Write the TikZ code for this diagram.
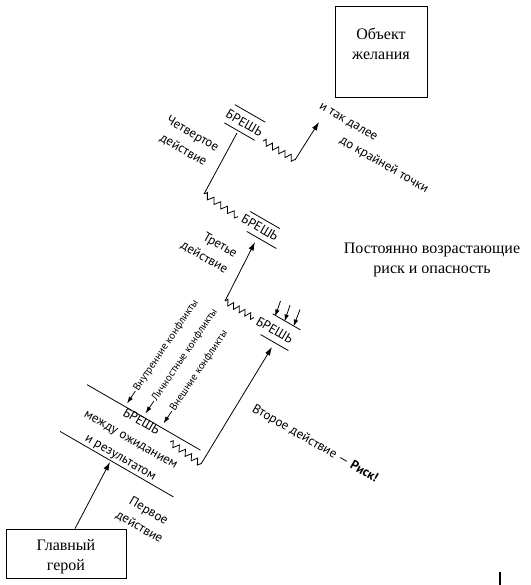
\documentclass[tikz,border=0pt]{standalone}
\usepackage{fontspec}
\setmainfont{Liberation Serif}
\newfontfamily\sansf{PT Sans}
\usetikzlibrary{arrows.meta,decorations.pathmorphing,calc}
\begin{document}
\begin{tikzpicture}[x=1pt,y=-1pt,
  ln/.style={line width=0.8pt},
  arr/.style={ln, -{Latex[length=8.5pt,width=5.5pt]}},
  arrs/.style={ln, -{Latex[length=7pt,width=4.5pt]}},
  zz/.style={ln, decorate, decoration={zigzag, segment length=#1, amplitude=3pt}},
  zz/.default=7.5pt,
  lbl/.style={font=\sansf\fontsize{13}{18.5}\selectfont, inner sep=1pt},
  sml/.style={font=\sansf\fontsize{10.5}{12}\selectfont, inner sep=1pt},
  srf/.style={font=\fontsize{16}{20}\selectfont, align=center, inner sep=0pt},
  box/.style={draw, line width=0.8pt, inner sep=0pt}]
\useasboundingbox (0,0) rectangle (530,585);

% boxes and serif texts
\node[box, minimum width=120pt, minimum height=49pt] (hero) at (66,553.5) {};
\node[srf] (herotxt) at (66,557) {Главный\\герой};
\node[box, minimum width=92pt, minimum height=91pt] (goal) at (381,51.5) {};
\node[srf] (goaltxt) at (381,44) {Объект\\желания};
\node[srf] (risk) at (432,260) {Постоянно возрастающие\\риск и опасность};

% gap 1
\begin{scope}[shift={(130.3,440.8)}, rotate=-30]
  \draw[ln] (-65.5,-27) -- (65.5,-27);
  \draw[ln] (-65.5,27) -- (65.5,27);
  \node[lbl, rotate=-30, align=center, font=\sansf\fontsize{13}{20.5}\selectfont] (g1) at (0,-1) {БРЕШЬ\\между ожиданием\\и результатом};
\end{scope}
% gap 2
\begin{scope}[shift={(280.5,332.2)}, rotate=-30]
  \draw[ln] (-16,-12) -- (16,-12);
  \draw[ln] (-16,12) -- (16,12);
  \node[lbl, rotate=-30] (g2) at (-6,1) {БРЕШЬ};
\end{scope}
% gap 3
\begin{scope}[shift={(263.3,230)}, rotate=-30]
  \draw[ln] (-20.5,-9.5) -- (13.5,-9.5);
  \draw[ln] (-13.5,9.5) -- (20.5,9.5);
  \node[lbl, rotate=-30] (g3) at (-4,-0.5) {БРЕШЬ};
\end{scope}
% gap 4
\begin{scope}[shift={(244.8,122.5)}, rotate=-30]
  \draw[ln] (-17.5,-10.5) -- (17.5,-10.5);
  \draw[ln] (-17.5,10.5) -- (17.5,10.5);
  \node[lbl, rotate=-30] (g4) at (0,0.5) {БРЕШЬ};
\end{scope}

% path coordinates
\coordinate (t1) at (110,462);
\coordinate (z1s) at (170,442);
\coordinate (z1e) at (201,464);
\coordinate (t2) at (272,347);
\coordinate (c2) at (225,301);
\coordinate (z2e) at (254,318);
\coordinate (t3) at (255,242);
\coordinate (c3) at (204,194);
\coordinate (z3e) at (238,217);
\coordinate (t4) at (237,133);
\coordinate (z4s) at (263,141);
\coordinate (z4e) at (295,160);
\coordinate (t5) at (319,122);

\draw[arr] ($(hero.north)+(9,0)$) -- (t1);
\draw[zz=7.5pt] (z1s) -- (z1e);
\draw[arr] (z1e) -- (t2);
\draw[zz=6.6pt] (c2) -- (z2e);
\draw[arr] (c2) -- (t3);
\draw[zz=8.1pt] (c3) -- (z3e);
\draw[ln] (c3) -- (t4);
\draw[zz=7.3pt] (z4s) -- (z4e);
\draw[arr] (z4e) -- (t5);

% three pressure arrows
\coordinate (p1) at (280.5,301); \coordinate (q1) at (275,316.5);
\coordinate (p2) at (290,305);   \coordinate (q2) at (284.5,321.5);
\coordinate (p3) at (300,309.5); \coordinate (q3) at (293.5,326.5);
\draw[arrs] (p1) -- (q1);
\draw[arrs] (p2) -- (q2);
\draw[arrs] (p3) -- (q3);

% conflicts
\coordinate (k1t) at (127,403.5);
\coordinate (k2t) at (145.5,413.5);
\coordinate (k3t) at (163.5,423.5);
\node[sml, rotate=56, anchor=west] (k1) at ($(k1t)+(56:15pt)$) {Внутренние конфликты};
\node[sml, rotate=56, anchor=west] (k2) at ($(k2t)+(56:15pt)$) {Личностные конфликты};
\node[sml, rotate=56, anchor=west] (k3) at ($(k3t)+(56:15pt)$) {Внешние конфликты};
\draw[arrs] (k1.west) -- (k1t);
\draw[arrs] (k2.west) -- (k2t);
\draw[arrs] (k3.west) -- (k3t);

% act labels
\node[lbl, rotate=-30, align=center] (act4) at (188,142) {Четвертое\\действие};
\node[lbl, rotate=-30, align=right] (act3) at (209,249.5) {Третье\\действие};
\node[lbl, rotate=-30, align=center] (act1) at (144,519) {Первое\\действие};
\node[lbl, rotate=-30] (act2) at (315,444) {Второе действие — \textbf{Риск!}};
\node[lbl, rotate=-30] (etc1) at (348,122.5) {и так далее};
\node[lbl, rotate=-30] (etc2) at (384,165) {до крайней точки};

% small bar
\coordinate (b1) at (500,572);
\coordinate (b2) at (500,585);
\draw[line width=1.2pt] (b1) -- (b2);
\end{tikzpicture}
\end{document}
